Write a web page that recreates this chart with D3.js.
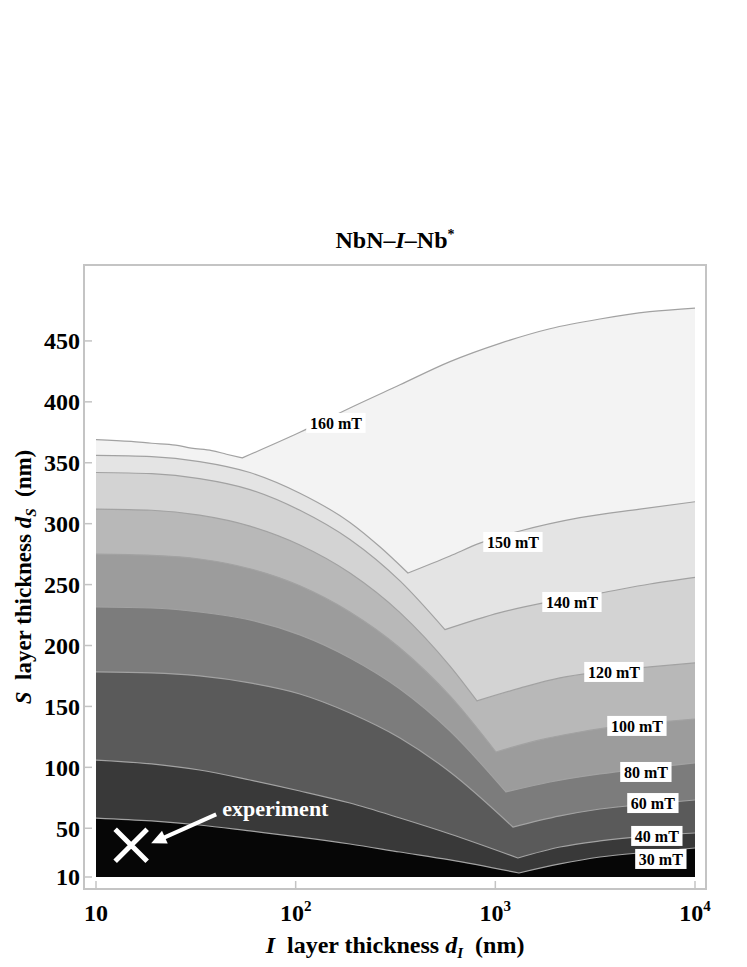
<!DOCTYPE html>
<html>
<head>
<meta charset="utf-8">
<script src="https://cdn.jsdelivr.net/npm/d3@7"></script>
<style>
  body { margin: 0; background: #fff; }
  svg text { font-family: "Liberation Serif", "Times New Roman", serif; font-weight: bold; }
</style>
</head>
<body>
<svg id="chart" width="747" height="967"></svg>
<script>
// contour levels (mT); each contour is a list of [d_I (nm), d_S (nm)]
var levels = [30, 40, 60, 80, 100, 120, 140, 150, 160];

var c30  = [[10,58.4],[19,56],[33,52.7],[59,47.8],[105,42.8],[187,37.1],[333,30.5],[593,24],[1313,13.3],[2106,20.7],[3341,26.4],[5944,30.5],[10000,33.8]];
var c40  = [[10,106],[19,102.8],[33,97.8],[59,89.6],[105,80.6],[187,70.7],[333,58.4],[593,45.3],[1298,25.6],[2106,34.6],[3341,39.6],[5944,43.7],[10000,46.1]];
var c60  = [[10,178.3],[19,177.5],[33,175],[59,169.3],[105,160.2],[187,144.6],[333,124.1],[593,96.2],[1225,51],[2106,60.1],[3341,65.8],[5944,69.9],[10000,73.2]];
var c80  = [[10,231.6],[19,230.8],[33,227.5],[59,221],[105,208.7],[187,189.8],[333,164.3],[593,129.8],[1130,79.8],[1877,88],[3341,94.6],[5944,99.5],[10000,103.6]];
var c100 = [[10,275],[19,274],[33,271],[59,263],[105,249],[187,227.5],[333,198],[593,158.6],[1007,112.6],[1672,122.5],[2653,129],[4206,134],[6672,137.2],[10000,139.7]];
var c120 = [[10,312],[19,311],[33,307],[59,298],[105,282.5],[187,259.5],[333,227],[593,183],[809,154.5],[1328,165],[2106,173.4],[3341,178.3],[5944,182.4],[10000,185.7]];
var c140 = [[10,342],[19,341],[33,337],[59,328],[105,311],[187,287],[333,253],[559,213],[1055,227],[1877,236],[3341,243],[5944,250.5],[10000,256]];
var c150 = [[10,356],[19,355],[33,351],[59,342],[105,325],[187,301],[264,281],[365,259.5],[593,273.5],[837,284],[1328,294],[2653,305],[5297,312],[10000,318]];
var c160 = [[10,369],[15,367.5],[19,366],[25,364.5],[30,362],[38,360],[45,357],[54,354],[105,375],[187,395],[333,414],[593,433],[1055,448],[1877,460],[3341,468],[5944,474],[10000,477]];
var contours = [c30, c40, c60, c80, c100, c120, c140, c150, c160];

// band fill, from below 30 mT up to above 160 mT
var bandColors = ["#060606", "#393939", "#5a5a5a", "#7c7c7c", "#9c9c9c", "#b8b8b8", "#d3d3d3", "#e4e4e4", "#f3f3f3", "#ffffff"];

// where each contour label sits
var labelDI = [6745, 6440, 6152, 5675, 5117, 3925, 2419, 1225, 159];
var labelDS = [24.8, 43.7, 70.7, 96.2, 134, 178.3, 235.7, 285, 382.7];

var yTicks = [10, 50, 100, 150, 200, 250, 300, 350, 400, 450];
var xTicks = [10, 100, 1000, 10000];
var xTickExp = ["", "2", "3", "4"];

var experiment = [15, 36];

var svg = d3.select("#chart");
var frame = {left: 84, right: 706, top: 265, bottom: 889};

var x = d3.scaleLog().domain([10, 10000]).range([96, 695]);
var y = d3.scaleLinear().domain([10, 500]).range([877, 280]);

svg.append("clipPath").attr("id", "plotclip")
  .append("rect")
    .attr("x", x(10)).attr("y", y(500))
    .attr("width", x(10000) - x(10)).attr("height", y(10) - y(500));

var line = d3.line()
  .x(function(d) { return x(d[0]); })
  .y(function(d) { return y(d[1]); })
  .curve(d3.curveMonotoneX);

// split at the lowest point so the kink stays sharp
function contourPath(pts) {
  var k = d3.minIndex(pts, function(d) { return d[1]; });
  var left = line(pts.slice(0, k + 1));
  var right = line(pts.slice(k));
  return left + right.replace(/^M/, "L");
}

var plot = svg.append("g").attr("clip-path", "url(#plotclip)");

plot.append("rect")
  .attr("x", x(10)).attr("y", y(500))
  .attr("width", x(10000) - x(10)).attr("height", y(10) - y(500))
  .attr("fill", bandColors[9]);

// paint from the top level down, each fill covers everything below its contour
for (var i = contours.length - 1; i >= 0; i--) {
  plot.append("path")
    .attr("d", contourPath(contours[i]) + "L" + x(10000) + "," + y(10) + "L" + x(10) + "," + y(10) + "Z")
    .attr("fill", bandColors[i]);
}

plot.selectAll(".cline")
  .data(contours)
  .enter()
  .append("path")
    .attr("class", "cline")
    .attr("d", contourPath)
    .attr("fill", "none")
    .attr("stroke", "#a2a2a2")
    .attr("stroke-width", 1.2);

// contour labels
var lab = svg.selectAll(".clabel")
  .data(levels)
  .enter()
  .append("g")
    .attr("class", "clabel")
    .attr("transform", function(d, i) { return "translate(" + x(labelDI[i]) + "," + y(labelDS[i]) + ")"; });

lab.append("rect").attr("fill", "#fff");
lab.append("text")
  .attr("text-anchor", "middle")
  .attr("dy", "0.35em")
  .style("font-size", "16px")
  .text(function(d) { return d + " mT"; });
lab.each(function() {
  var g = d3.select(this);
  var w = g.select("text").node().getBBox().width + 7;
  g.select("rect").attr("x", -w / 2).attr("y", -10).attr("width", w).attr("height", 20);
});

// experiment marker
var ex = x(experiment[0]), ey = y(experiment[1]);
var s = 16;
svg.append("path")
  .attr("d", "M" + (ex - s) + "," + (ey - s) + "L" + (ex + s) + "," + (ey + s) + "M" + (ex - s) + "," + (ey + s) + "L" + (ex + s) + "," + (ey - s))
  .attr("stroke", "#fff").attr("stroke-width", 5);

var tip = [ex + 20, ey - 2], tail = [ex + 85, ey - 31];
var ang = Math.atan2(tip[1] - tail[1], tip[0] - tail[0]);
var hl = 15, hw = 7;
svg.append("line")
  .attr("x1", tail[0]).attr("y1", tail[1])
  .attr("x2", tip[0] - Math.cos(ang) * 8).attr("y2", tip[1] - Math.sin(ang) * 8)
  .attr("stroke", "#fff").attr("stroke-width", 4);
svg.append("path")
  .attr("d", "M" + tip[0] + "," + tip[1] +
    "L" + (tip[0] - hl * Math.cos(ang) + hw * Math.sin(ang)) + "," + (tip[1] - hl * Math.sin(ang) - hw * Math.cos(ang)) +
    "L" + (tip[0] - hl * Math.cos(ang) - hw * Math.sin(ang)) + "," + (tip[1] - hl * Math.sin(ang) + hw * Math.cos(ang)) + "Z")
  .attr("fill", "#fff");
svg.append("text")
  .attr("x", ex + 91).attr("y", ey - 29)
  .attr("fill", "#fff")
  .style("font-size", "22px")
  .text("experiment");

// frame and ticks
svg.append("rect")
  .attr("x", frame.left).attr("y", frame.top)
  .attr("width", frame.right - frame.left).attr("height", frame.bottom - frame.top)
  .attr("fill", "none").attr("stroke", "#c4c4c4").attr("stroke-width", 2);

svg.selectAll(".ytick")
  .data(yTicks)
  .enter()
  .append("line")
    .attr("x1", frame.left).attr("x2", frame.left + 8)
    .attr("y1", function(d) { return y(d); }).attr("y2", function(d) { return y(d); })
    .attr("stroke", "#c4c4c4").attr("stroke-width", 1.5);

svg.selectAll(".ylab")
  .data(yTicks)
  .enter()
  .append("text")
    .attr("x", frame.left - 4)
    .attr("y", function(d) { return y(d); })
    .attr("dy", "0.35em")
    .attr("text-anchor", "end")
    .style("font-size", "24px")
    .text(function(d) { return d; });

svg.selectAll(".xtick")
  .data(xTicks)
  .enter()
  .append("line")
    .attr("x1", function(d) { return x(d); }).attr("x2", function(d) { return x(d); })
    .attr("y1", frame.bottom).attr("y2", frame.bottom - 8)
    .attr("stroke", "#c4c4c4").attr("stroke-width", 1.5);

var xl = svg.selectAll(".xlab")
  .data(xTicks)
  .enter()
  .append("text")
    .attr("x", function(d) { return x(d); })
    .attr("y", 921)
    .attr("text-anchor", "middle")
    .style("font-size", "24px");
xl.append("tspan").text("10");
xl.append("tspan")
  .attr("dy", -10)
  .style("font-size", "15px")
  .text(function(d, i) { return xTickExp[i]; });

// title and axis labels
var cx = (frame.left + frame.right) / 2;
var title = svg.append("text")
  .attr("x", cx).attr("y", 248)
  .attr("text-anchor", "middle")
  .style("font-size", "24px");
title.append("tspan").text("NbN\u2013");
title.append("tspan").style("font-style", "italic").text("I");
title.append("tspan").text("\u2013Nb");
title.append("tspan").attr("dy", -9).style("font-size", "14px").text("*");

var xt = svg.append("text")
  .attr("x", cx).attr("y", 953)
  .attr("text-anchor", "middle")
  .style("font-size", "24px");
xt.append("tspan").style("font-style", "italic").text("I");
xt.append("tspan").text("\u00a0\u00a0layer thickness\u00a0");
xt.append("tspan").style("font-style", "italic").text("d");
xt.append("tspan").attr("dy", 5).style("font-style", "italic").style("font-size", "15px").text("I");
xt.append("tspan").attr("dy", -5).text("\u00a0\u00a0(nm)");

var yt = svg.append("text")
  .attr("transform", "translate(31," + (frame.top + frame.bottom) / 2 + ") rotate(-90)")
  .attr("text-anchor", "middle")
  .style("font-size", "23px");
yt.append("tspan").style("font-style", "italic").text("S");
yt.append("tspan").text("\u00a0\u00a0layer thickness\u00a0");
yt.append("tspan").style("font-style", "italic").text("d");
yt.append("tspan").attr("dy", 5).style("font-style", "italic").style("font-size", "15px").text("S");
yt.append("tspan").attr("dy", -5).text("\u00a0\u00a0(nm)");
</script>
</body>
</html>
